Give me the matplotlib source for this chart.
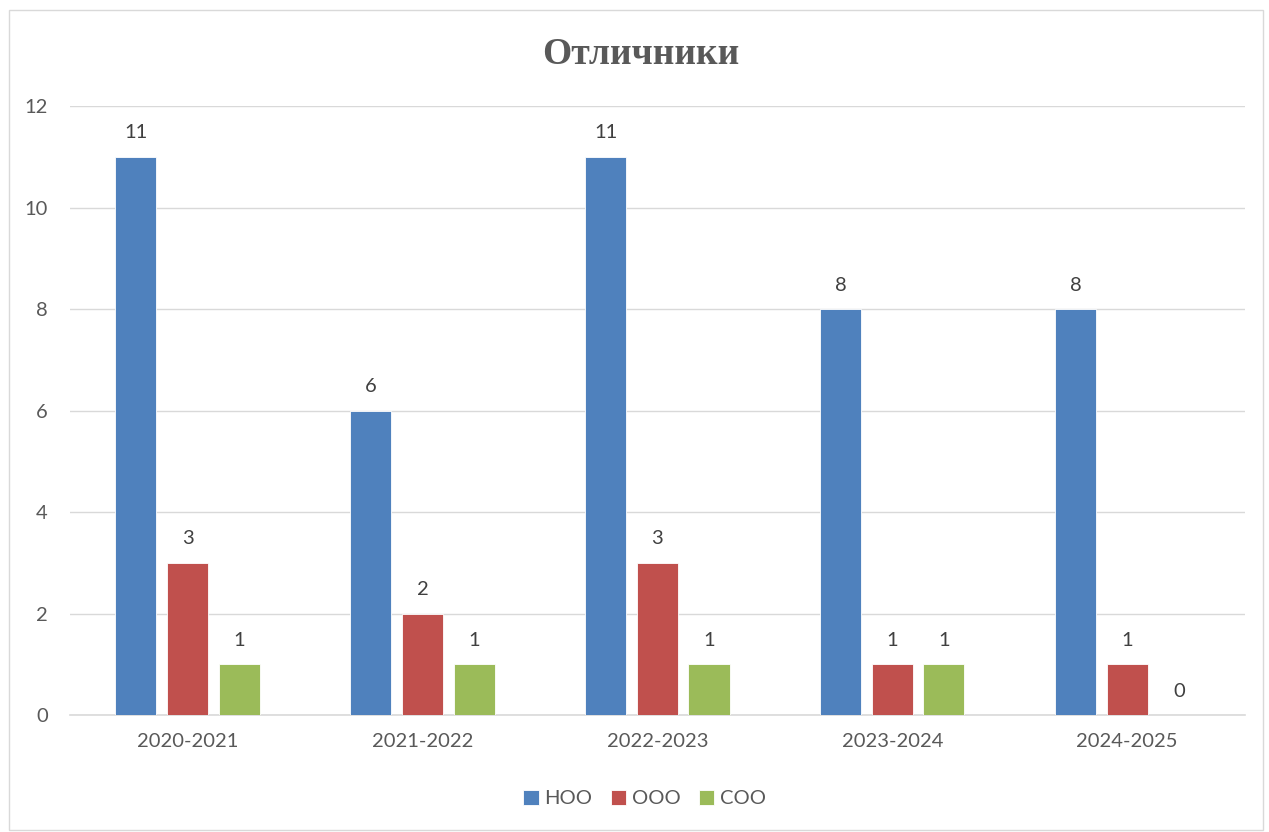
import matplotlib.pyplot as plt
import numpy as np
from matplotlib.patches import Rectangle

# Data
years = ['2020-2021', '2021-2022', '2022-2023', '2023-2024', '2024-2025']
noo = [11, 6, 11, 8, 8]
ooo = [3, 2, 3, 1, 1]
soo = [1, 1, 1, 1, 0]
series_names = ['НОО', 'ООО', 'СОО']
colors = ['#4F81BD', '#C0504D', '#9BBB59']

plt.rcParams['font.family'] = ['Lato', 'DejaVu Sans']
text_color = '#595959'

fig = plt.figure(figsize=(12.69, 8.32), dpi=100)
ax = fig.add_axes([0.0552, 0.1406, 0.9256, 0.732])

# Border around chart area
fig.patches.append(Rectangle((0.007, 0.003), 0.988, 0.985, transform=fig.transFigure,
                             fill=False, edgecolor='#D9D9D9', linewidth=1))

x = np.arange(len(years))
width = 0.175
offset = 0.22
for i, (vals, name, c) in enumerate(zip([noo, ooo, soo], series_names, colors)):
    pos = x + (i - 1) * offset
    bars = ax.bar(pos, vals, width, color=c, label=name, edgecolor='white',
                  linewidth=0.6, zorder=3)
    for b, v in zip(bars, vals):
        ax.annotate(str(v), (b.get_x() + b.get_width() / 2, v), xytext=(0, 11),
                    textcoords='offset points', ha='center', va='bottom',
                    fontsize=14.5, color='#404040')

ax.set_xlim(-0.5, len(years) - 0.5)
ax.set_ylim(0, 12)
ax.set_yticks(range(0, 13, 2))
ax.set_xticks(x)
ax.set_xticklabels(years)
ax.grid(axis='y', color='#D9D9D9', linewidth=1, zorder=0)
for s in ['top', 'right', 'left']:
    ax.spines[s].set_visible(False)
ax.spines['bottom'].set_color('#D9D9D9')
ax.spines['bottom'].set_linewidth(1.2)
ax.tick_params(axis='both', length=0, labelsize=14.5, colors=text_color)
ax.tick_params(axis='x', pad=13)
ax.tick_params(axis='y', pad=16)

fig.text(0.505, 0.935, 'Отличники', ha='center', va='center', fontsize=27,
         fontweight='bold', color=text_color, family=['Liberation Serif', 'DejaVu Serif'])

leg = fig.legend(loc='center', bbox_to_anchor=(0.508, 0.04), ncol=3, frameon=False,
                 fontsize=14.5, handlelength=0.75, handleheight=0.75, handletextpad=0.3,
                 columnspacing=0.9)
for t in leg.get_texts():
    t.set_color(text_color)

plt.savefig('out.png', dpi=100)
